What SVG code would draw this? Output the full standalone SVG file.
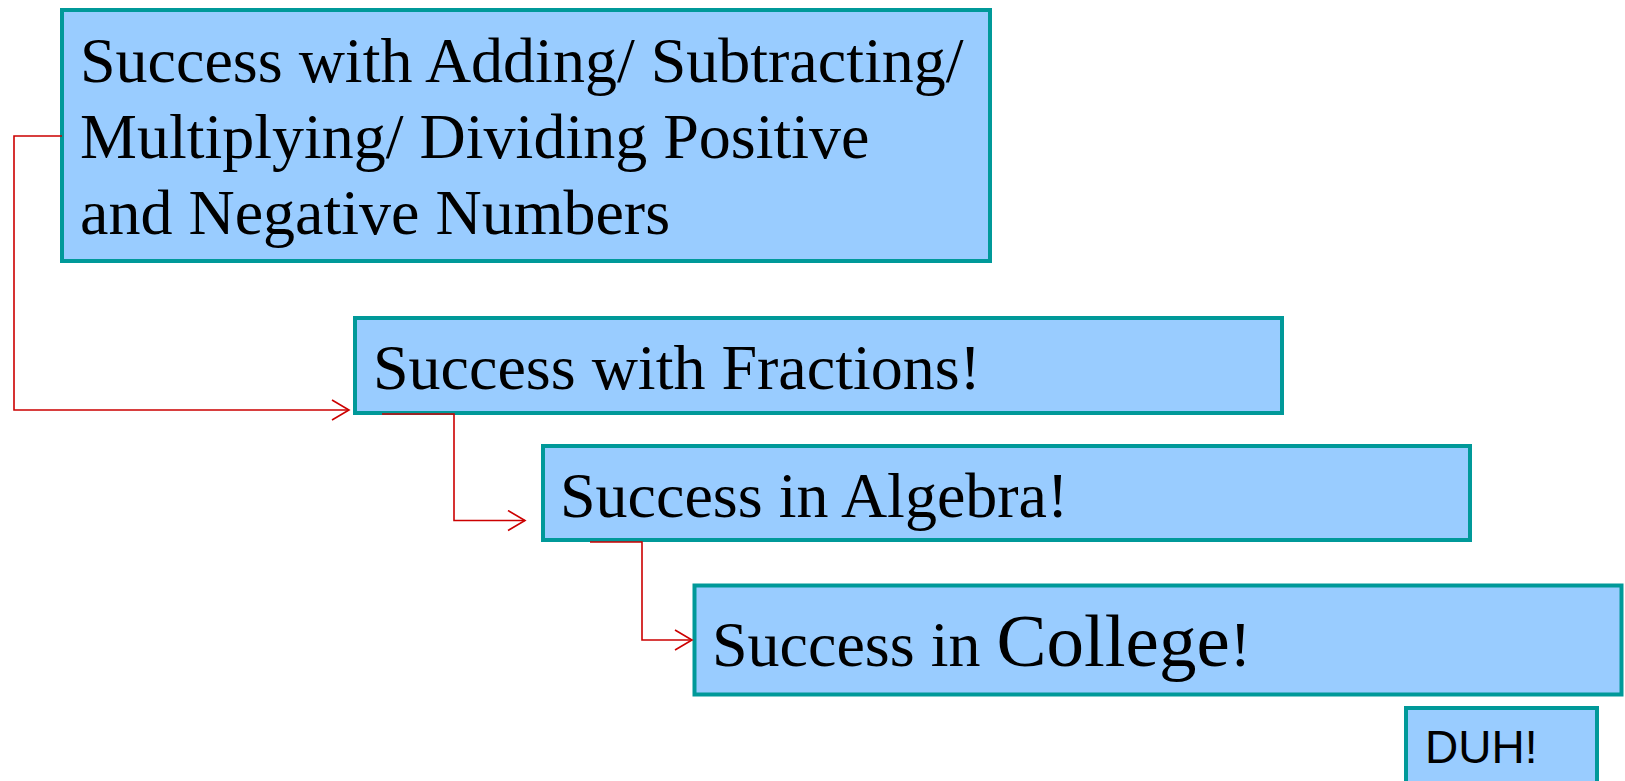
<svg xmlns="http://www.w3.org/2000/svg" width="1625" height="781" viewBox="0 0 1625 781">
<style>
.box{fill:#99CCFF;stroke:#009999;stroke-width:4}
.t{font-family:"Liberation Serif","Times New Roman",serif;font-size:64px;fill:#000}
.big{font-size:75px}
.s{font-family:"Liberation Sans",Arial,sans-serif;font-size:46px;fill:#000}
.c{fill:none;stroke:#CC0000;stroke-width:1.6}
</style>
<defs>
<marker id="ah" viewBox="0 0 20 22" refX="18" refY="11" markerWidth="20" markerHeight="22" markerUnits="userSpaceOnUse" orient="auto">
<path d="M1,1 L18,11 L1,21" fill="none" stroke="#CC0000" stroke-width="1.6"/>
</marker>
</defs>
<rect width="1625" height="781" fill="#fff"/>
<g id="n1">
<rect class="box" x="62" y="10" width="928" height="251"/>
<text class="t" x="80" y="82">Success with Adding/ Subtracting/</text>
<text class="t" x="80" y="158">Multiplying/ Dividing Positive</text>
<text class="t" x="80" y="234">and Negative Numbers</text>
</g>
<g id="n2">
<rect class="box" x="355" y="318" width="927" height="95"/>
<text class="t" x="373" y="389">Success with Fractions!</text>
</g>
<g id="n3">
<rect class="box" x="543" y="446" width="927" height="94"/>
<text class="t" x="560" y="517">Success in Algebra!</text>
</g>
<g id="n4">
<rect class="box" x="694.5" y="585.5" width="927" height="109"/>
<text class="t" x="712" y="666">Success in <tspan class="big">College</tspan>!</text>
</g>
<g id="n5">
<rect class="box" x="1406" y="708" width="191" height="80"/>
<text class="s" x="1425" y="763">DUH!</text>
</g>
<g id="connectors">
<path class="c" d="M62,136 H14 V410 H349" marker-end="url(#ah)"/>
<path class="c" d="M382,414 H454 V520.5 H525" marker-end="url(#ah)"/>
<path class="c" d="M590,542 H642 V640 H692" marker-end="url(#ah)"/>
</g>
</svg>
